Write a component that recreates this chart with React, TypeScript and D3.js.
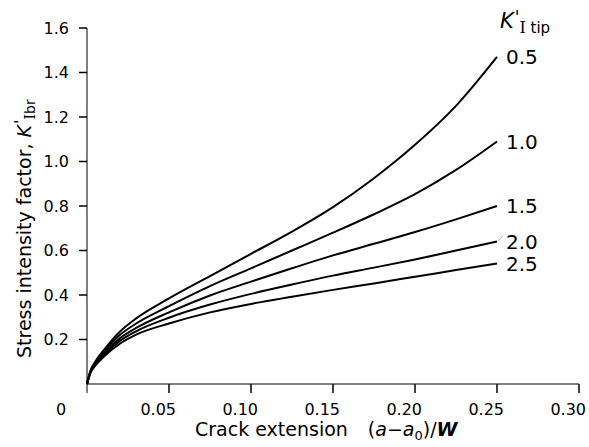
import React from "react";
import * as d3 from "d3";

// Crack extension (a - a0)/W
const crackExt = [0, 0.002, 0.005, 0.01, 0.02, 0.03, 0.05, 0.075, 0.10, 0.125, 0.15, 0.175, 0.20, 0.225, 0.25];

// K'_I br for each K'_I tip value
const tipLabels = ["0.5", "1.0", "1.5", "2.0", "2.5"];
const kTip05 = [0, 0.058, 0.10, 0.15, 0.235, 0.295, 0.385, 0.485, 0.585, 0.685, 0.795, 0.925, 1.075, 1.25, 1.47];
const kTip10 = [0, 0.055, 0.095, 0.142, 0.22, 0.272, 0.35, 0.44, 0.52, 0.60, 0.68, 0.763, 0.853, 0.962, 1.09];
const kTip15 = [0, 0.052, 0.09, 0.133, 0.205, 0.252, 0.322, 0.398, 0.46, 0.52, 0.578, 0.63, 0.683, 0.74, 0.80];
const kTip20 = [0, 0.05, 0.086, 0.127, 0.193, 0.237, 0.298, 0.357, 0.405, 0.447, 0.487, 0.523, 0.56, 0.60, 0.64];
const kTip25 = [0, 0.048, 0.082, 0.121, 0.181, 0.222, 0.272, 0.322, 0.36, 0.392, 0.423, 0.452, 0.482, 0.512, 0.542];
const seriesValues = [kTip05, kTip10, kTip15, kTip20, kTip25];

const xTicks = [0.05, 0.10, 0.15, 0.20, 0.25, 0.30];
const xTickLabels = ["0.05", "0.10", "0.15", "0.20", "0.25", "0.30"];
const yTicks = [0.2, 0.4, 0.6, 0.8, 1.0, 1.2, 1.4, 1.6];
const yTickLabels = ["0.2", "0.4", "0.6", "0.8", "1.0", "1.2", "1.4", "1.6"];

const W = 589;
const H = 447;
const FONT = "'DejaVu Sans', 'Liberation Sans', sans-serif";
const SERIF = "'DejaVu Serif', serif";

export default function App() {
  const x = d3.scaleLinear().domain([0, 0.3]).range([87, 579]);
  const y = d3.scaleLinear().domain([0, 1.6]).range([384, 28]);

  const line = d3
    .line<[number, number]>()
    .x((d) => x(d[0]))
    .y((d) => y(d[1]))
    .curve(d3.curveMonotoneX);

  const axisColor = "#555";

  return (
    <svg
      width={W}
      height={H}
      viewBox={`0 0 ${W} ${H}`}
      style={{ position: "absolute", left: 0, top: 0, background: "#fff" }}
      fontFamily={FONT}
    >
      {/* axes */}
      <line x1={x(0)} y1={y(0)} x2={x(0.3)} y2={y(0)} stroke={axisColor} strokeWidth={1.5} />
      <line x1={x(0)} y1={y(0) + 9} x2={x(0)} y2={y(1.6)} stroke={axisColor} strokeWidth={1.5} />

      {/* x ticks */}
      {xTicks.map((t, i) => (
        <g key={`xt${i}`}>
          <line x1={x(t)} x2={x(t)} y1={y(0)} y2={y(0) + 9} stroke="#000" strokeWidth={1.5} />
          <text x={x(t) + 7} y={415} fontSize={16} textAnchor="end" fill="#000">
            {xTickLabels[i]}
          </text>
        </g>
      ))}
      <text x={61} y={415} fontSize={16} textAnchor="middle" fill="#000">0</text>

      {/* y ticks */}
      {yTicks.map((t, i) => (
        <g key={`yt${i}`}>
          <line x1={x(0) - 8} x2={x(0)} y1={y(t)} y2={y(t)} stroke="#000" strokeWidth={1.5} />
          <text x={69} y={y(t)} dy="0.36em" fontSize={16} textAnchor="end" fill="#000">
            {yTickLabels[i]}
          </text>
        </g>
      ))}

      {/* curves */}
      {seriesValues.map((vals, i) => {
        const pts = crackExt.map((c, j) => [c, vals[j]] as [number, number]);
        return (
          <path key={`s${i}`} d={line(pts) || ""} fill="none" stroke="#000" strokeWidth={2} />
        );
      })}

      {/* curve labels */}
      {seriesValues.map((vals, i) => (
        <text
          key={`lab${i}`}
          x={x(0.25) + 9}
          y={y(vals[vals.length - 1])}
          dy="0.36em"
          fontSize={20}
          fill="#000"
        >
          {tipLabels[i]}
        </text>
      ))}
      <line
        x1={x(0.25) + 1}
        y1={y(kTip20[kTip20.length - 1])}
        x2={x(0.25) + 6}
        y2={y(kTip20[kTip20.length - 1]) - 6}
        stroke="#999"
        strokeWidth={0.8}
      />

      {/* legend heading */}
      <text x={500} y={28} fontSize={21} fill="#000">
        <tspan fontStyle="italic">K</tspan>
        <tspan fontStyle="italic" dx={1} dy={-5} fontSize={17}>'</tspan>
        <tspan dy={10} fontSize={16} fontFamily={SERIF}>I</tspan>
        <tspan fontSize={15}> tip</tspan>
      </text>

      {/* axis titles */}
      <text x={195} y={436} fontSize={19} fill="#000">
        <tspan>Crack extension</tspan>
        <tspan dx={20}>(</tspan>
        <tspan fontStyle="italic">a</tspan>
        <tspan>−</tspan>
        <tspan fontStyle="italic">a</tspan>
        <tspan dy={4} fontSize={13}>0</tspan>
        <tspan dy={-4}>)/</tspan>
        <tspan fontStyle="italic" fontWeight="bold">W</tspan>
      </text>
      <text transform="translate(31,358) rotate(-90)" fontSize={19} fill="#000">
        <tspan>Stress intensity factor, </tspan>
        <tspan fontStyle="italic">K</tspan>
        <tspan fontStyle="italic" dx={1} dy={-5} fontSize={16}>'</tspan>
        <tspan dy={9} fontSize={14} fontFamily={SERIF}>I</tspan>
        <tspan fontSize={14}>br</tspan>
      </text>
    </svg>
  );
}
